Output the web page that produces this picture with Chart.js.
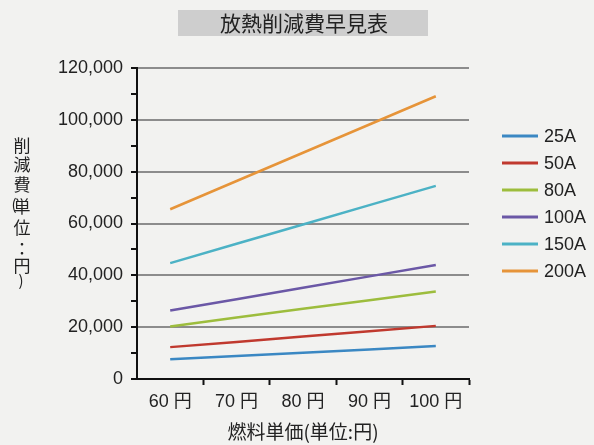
<!DOCTYPE html>
<html>
<head>
<meta charset="utf-8">
<script src="https://cdn.jsdelivr.net/npm/chart.js@4"></script>
<style>
  html, body { margin: 0; padding: 0; background: #f2f2f0; }
  #wrap { width: 594px; height: 445px; }
</style>
</head>
<body>
<div id="wrap"><canvas id="grafik" width="594" height="445"></canvas></div>
<script>
// fuel unit price (categories)
const PRICES = ['60 円', '70 円', '80 円', '90 円', '100 円'];
const SERIES = ['25A', '50A', '80A', '100A', '150A', '200A'];

// reduction cost per series
const V25 = [7600, 8900, 10100, 11400, 12700];
const V50 = [12300, 14300, 16400, 18400, 20500];
const V80 = [20300, 23700, 27100, 30400, 33800];
const V100 = [26400, 30800, 35200, 39600, 44000];
const V150 = [44700, 52200, 59600, 67100, 74500];
const V200 = [65500, 76400, 87300, 98200, 109100];

const COLORS = ['#3b88c3', '#c0392e', '#9dbd3d', '#6b58a6', '#4cb2c5', '#e69439'];
const VALUES = [V25, V50, V80, V100, V150, V200];

const FONT = "'Liberation Sans', 'Noto Sans CJK JP', sans-serif";
const CJK = "'Noto Sans CJK JP', sans-serif";

const decor = {
    id: 'decor',
    beforeDraw(chart) {
        const c = chart.ctx;
        c.save();
        c.fillStyle = '#f2f2f0';
        c.fillRect(0, 0, chart.width, chart.height);
        // title box
        c.fillStyle = '#cecece';
        c.fillRect(178, 10, 250, 26);
        c.fillStyle = '#222';
        c.font = '21px ' + CJK;
        c.textAlign = 'center';
        c.textBaseline = 'middle';
        c.fillText('放熱削減費早見表', 304, 23);
        c.restore();
    },
    afterDraw(chart) {
        const c = chart.ctx;
        c.save();
        // vertical y label
        c.fillStyle = '#222';
        c.font = '17px ' + CJK;
        c.textAlign = 'center';
        c.textBaseline = 'middle';
        const chars = [['削', 146], ['減', 165], ['費', 185], ['単', 207], ['位', 228], ['：', 249], ['円', 266]];
        chars.forEach(function (ch) { c.fillText(ch[0], 22, ch[1]); });
        c.font = '15px ' + CJK;
        c.fillText('(', 14, 204);
        c.fillText(')', 21, 280);

        // legend
        c.font = '18px ' + FONT;
        c.textAlign = 'left';
        chart.data.datasets.forEach(function (ds, i) {
            const y = 136 + i * 27;
            c.strokeStyle = ds.borderColor;
            c.lineWidth = 3;
            c.beginPath();
            c.moveTo(502, y);
            c.lineTo(538, y);
            c.stroke();
            c.fillStyle = '#222';
            c.fillText(ds.label, 544, y + 1);
        });
        c.restore();
    }
};

const chart = new Chart(document.getElementById('grafik'), {
    type: 'line',
    data: {
        labels: PRICES,
        datasets: SERIES.map(function (name, i) {
            return {
                label: name,
                data: VALUES[i],
                borderColor: COLORS[i],
                backgroundColor: COLORS[i],
                borderWidth: 2.5,
                pointRadius: 0,
                tension: 0
            };
        })
    },
    options: {
        responsive: false,
        animation: false,
        layout: { padding: { top: 68, right: 125, left: 0, bottom: 0 } },
        plugins: {
            legend: { display: false },
            tooltip: { enabled: false }
        },
        scales: {
            x: {
                offset: true,
                afterFit: function (s) { s.height = 66; },
                border: { color: '#111', width: 2 },
                grid: {
                    offset: true,
                    drawOnChartArea: false,
                    tickLength: 6,
                    tickWidth: 2,
                    tickColor: function (ctx) {
                        return (ctx.index === 0 || ctx.index === PRICES.length) ? 'rgba(0,0,0,0)' : '#111';
                    }
                },
                ticks: {
                    color: '#222',
                    padding: 6,
                    font: { family: FONT, size: 18 }
                },
                title: {
                    display: true,
                    text: '燃料単価(単位:円)',
                    color: '#222',
                    font: { family: CJK, size: 19 },
                    padding: { top: 0, bottom: 2 }
                }
            },
            y: {
                min: 0,
                max: 120000,
                afterFit: function (s) { s.width = 137; },
                border: { color: '#111', width: 2 },
                grid: {
                    lineWidth: 2,
                    tickLength: 6,
                    tickWidth: 2,
                    tickColor: '#111',
                    color: function (ctx) {
                        const v = ctx.tick ? ctx.tick.value : 0;
                        return (v !== 0 && v % 20000 === 0) ? '#8c8c8c' : 'rgba(0,0,0,0)';
                    }
                },
                ticks: {
                    stepSize: 10000,
                    autoSkip: false,
                    color: '#222',
                    padding: 8,
                    font: { family: FONT, size: 18 },
                    callback: function (v) {
                        return v % 20000 === 0 ? v.toLocaleString('en-US') : '';
                    }
                }
            }
        }
    },
    plugins: [decor]
});
</script>
</body>
</html>
